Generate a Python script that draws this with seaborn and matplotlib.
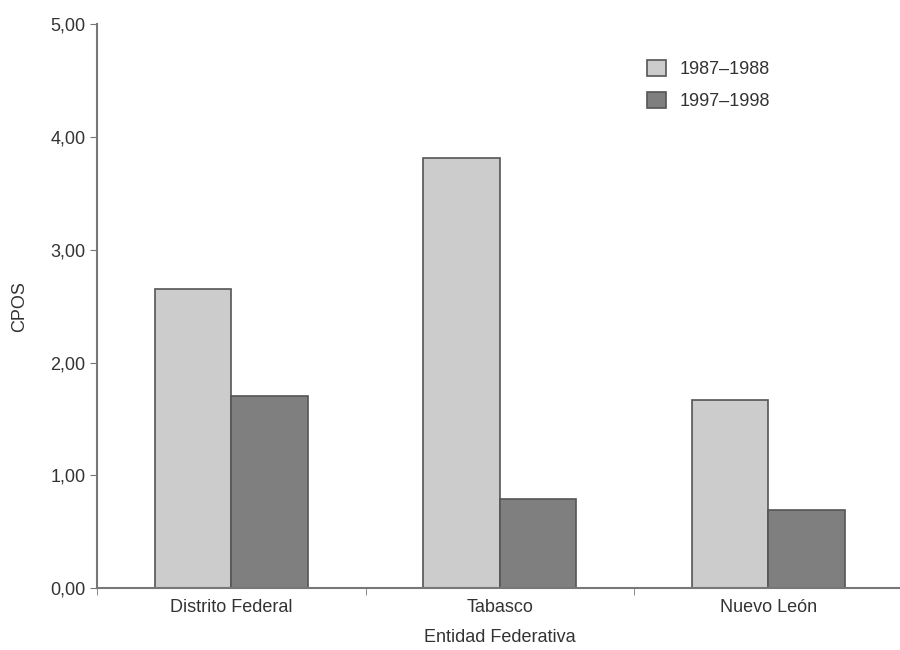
import matplotlib
matplotlib.use("Agg")
import matplotlib.pyplot as plt
import seaborn as sns
import pandas as pd
from matplotlib.ticker import FuncFormatter, FixedLocator

# data
entidades = ["Distrito Federal", "Tabasco", "Nuevo León"]
periodos = ["1987–1988", "1997–1998"]
cpos_1987 = [2.65, 3.81, 1.67]
cpos_1997 = [1.70, 0.79, 0.69]

df = pd.DataFrame({
    "Entidad": entidades * 2,
    "Periodo": [periodos[0]] * 3 + [periodos[1]] * 3,
    "CPOS": cpos_1987 + cpos_1997,
})

sns.set_style("white")
plt.rcParams["font.family"] = ["Liberation Sans", "DejaVu Sans"]
text_col = "#333333"

fig = plt.figure(figsize=(9, 6.5), dpi=100)
ax = fig.add_axes([0.108, 0.095, 0.895, 0.868])

sns.barplot(data=df, x="Entidad", y="CPOS", hue="Periodo",
            palette=["#cccccc", "#7f7f7f"], width=0.57,
            edgecolor="#555555", linewidth=1.2, saturation=1, ax=ax)

ax.set_xlim(-0.5, 2.5)
ax.set_ylim(0, 5)
ax.set_yticks([0, 1, 2, 3, 4, 5])
ax.yaxis.set_major_formatter(FuncFormatter(lambda v, p: f"{v:.2f}".replace(".", ",")))

# category separators as small downward ticks on the x axis
ax.xaxis.set_minor_locator(FixedLocator([-0.5, 0.5, 1.5]))
ax.tick_params(axis="x", which="major", length=0, labelsize=13, colors=text_col, pad=8)
ax.tick_params(axis="x", which="minor", length=5, direction="out", color="#777777", bottom=True)
ax.tick_params(axis="y", length=5, direction="out", color="#777777", labelsize=13,
               colors=text_col, left=True)

for side in ["top", "right"]:
    ax.spines[side].set_visible(False)
for side in ["left", "bottom"]:
    ax.spines[side].set_color("#777777")
    ax.spines[side].set_linewidth(1.5)

ax.set_xlabel("Entidad Federativa", fontsize=13, color=text_col, labelpad=9)
ax.set_ylabel("CPOS", fontsize=13, color=text_col, labelpad=16)

leg = ax.legend(loc="upper left", bbox_to_anchor=(0.663, 0.965), frameon=False,
                fontsize=13, handlelength=1.0, handleheight=1.0, handletextpad=0.8,
                labelspacing=0.75, labelcolor=text_col)

fig.savefig("out.png", dpi=100)
